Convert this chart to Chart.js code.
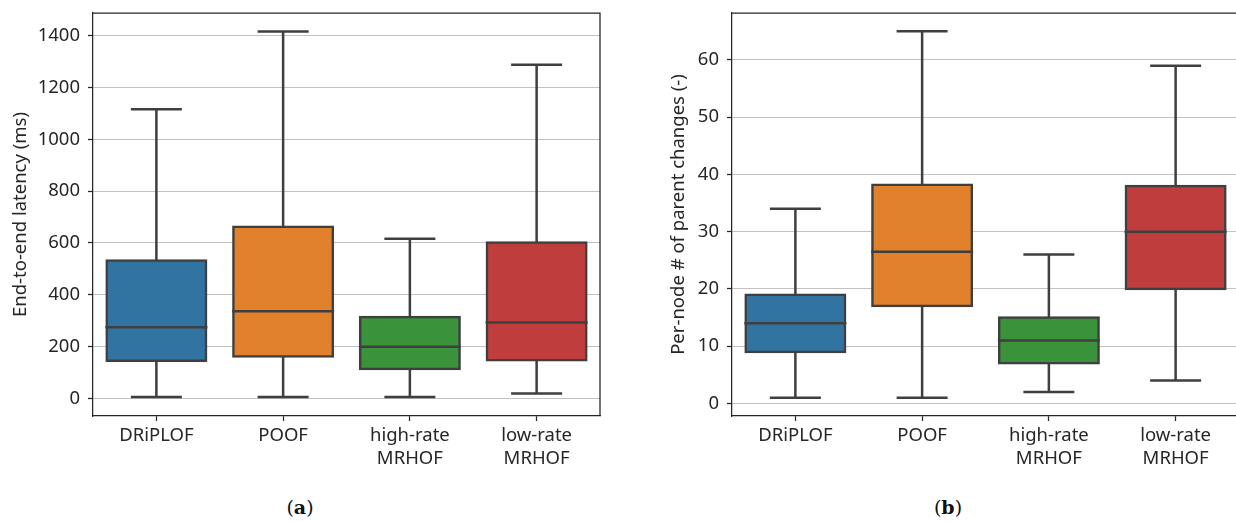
<!DOCTYPE html>
<html>
<head>
<meta charset="utf-8">
<script src="https://cdn.jsdelivr.net/npm/chart.js@4.4.1/dist/chart.umd.min.js"></script>
<style>
  html, body { margin:0; padding:0; background:#fff; }
  #wrap { position:relative; width:1236px; height:522px; overflow:hidden; }
  canvas { position:absolute; top:0; }
  #cA { left:0; }
  #cB { left:640px; }
  .cap { position:absolute; top:496px; font-family:"DejaVu Serif","Liberation Serif",serif; font-size:19px; color:#111; transform:translateX(-50%); }
</style>
</head>
<body>
<div id="wrap">
  <canvas id="cA" width="610" height="480"></canvas>
  <canvas id="cB" width="610" height="480"></canvas>
  <div class="cap" style="left:300px">(<b>a</b>)</div>
  <div class="cap" style="left:948px">(<b>b</b>)</div>
</div>
<script>
// ---- data ----
const categories = [['DRiPLOF'], ['POOF'], ['high-rate', 'MRHOF'], ['low-rate', 'MRHOF']];
const boxColors = ['#3274a1', '#e1812c', '#3a923a', '#c03d3e'];

// (a) End-to-end latency (ms)
const latencyMin    = [5, 5, 5, 19];
const latencyQ1     = [145, 162, 113, 147];
const latencyMedian = [275, 336, 199, 293];
const latencyQ3     = [532, 663, 314, 602];
const latencyMax    = [1116, 1417, 616, 1288];
const latencyTicks  = [0, 200, 400, 600, 800, 1000, 1200, 1400];

// (b) Per-node # of parent changes
const parentMin    = [1, 1, 2, 4];
const parentQ1     = [9, 17, 7, 20];
const parentMedian = [14, 26.5, 11, 30];
const parentQ3     = [19, 38.2, 15, 38];
const parentMax    = [34, 65, 26, 59];
const parentTicks  = [0, 10, 20, 30, 40, 50, 60];

// ---- style ----
const LINE = '#3f3f3f';
const AXIS = '#262626';
const GRID = '#c2c2c2';
const FONT = 'Noto Sans';
const BW = 2.5;

const boxPlugin = {
  id: 'boxParts',
  afterDatasetsDraw(chart, args, opts) {
    const ctx = chart.ctx, x = chart.scales.x, y = chart.scales.y;
    const meta = chart.getDatasetMeta(0);
    ctx.save();
    ctx.strokeStyle = LINE;
    ctx.lineWidth = BW;
    ctx.lineCap = 'butt';
    opts.min.forEach((_, i) => {
      const bar = meta.data[i];
      const cx = x.getPixelForValue(i);
      const half = bar.width / 2 + BW / 2;
      const capHalf = (bar.width + BW) / 4;
      const pMin = y.getPixelForValue(opts.min[i]);
      const pQ1 = y.getPixelForValue(opts.q1[i]);
      const pMed = y.getPixelForValue(opts.median[i]);
      const pQ3 = y.getPixelForValue(opts.q3[i]);
      const pMax = y.getPixelForValue(opts.max[i]);
      ctx.beginPath();
      ctx.moveTo(cx, pQ3); ctx.lineTo(cx, pMax);
      ctx.moveTo(cx - capHalf, pMax); ctx.lineTo(cx + capHalf, pMax);
      ctx.moveTo(cx, pQ1); ctx.lineTo(cx, pMin);
      ctx.moveTo(cx - capHalf, pMin); ctx.lineTo(cx + capHalf, pMin);
      ctx.moveTo(cx - half, pMed); ctx.lineTo(cx + half, pMed);
      ctx.stroke();
    });
    ctx.restore();
  }
};

const framePlugin = {
  id: 'frame',
  afterDraw(chart) {
    const a = chart.chartArea, ctx = chart.ctx;
    ctx.save();
    ctx.strokeStyle = AXIS;
    ctx.lineWidth = 1.25;
    ctx.beginPath();
    ctx.moveTo(a.left, a.top); ctx.lineTo(a.right, a.top); ctx.lineTo(a.right, a.bottom);
    ctx.stroke();
    ctx.restore();
  }
};

function makeBox(id, stats, ticks, yMin, yMax, title, titlePad, yWidth, padRight) {
  return new Chart(document.getElementById(id), {
    type: 'bar',
    data: {
      labels: categories,
      datasets: [{
        data: stats.q1.map((v, i) => [v, stats.q3[i]]),
        backgroundColor: boxColors,
        borderColor: LINE,
        borderWidth: BW,
        inflateAmount: BW / 2,
        borderSkipped: false,
        barPercentage: 0.785,
        categoryPercentage: 1.0
      }]
    },
    options: {
      responsive: false,
      animation: false,
      devicePixelRatio: 1,
      layout: { padding: { left: 0, top: 13, right: padRight, bottom: 0 } },
      plugins: {
        legend: { display: false },
        tooltip: { enabled: false },
        boxParts: stats
      },
      scales: {
        x: {
          offset: true,
          grid: { display: true, drawOnChartArea: false, drawTicks: true, tickLength: 5, tickColor: AXIS, tickWidth: 1.25, offset: false },
          border: { display: true, color: AXIS, width: 1.25 },
          ticks: { color: AXIS, font: { family: FONT, size: 18.5 }, padding: 4, maxRotation: 0, autoSkip: false },
          afterFit(s) { s.height = 64; s.paddingLeft = 0; s.paddingRight = 0; }
        },
        y: {
          min: yMin, max: yMax,
          afterBuildTicks(s) { s.ticks = ticks.map(v => ({ value: v })); },
          grid: { color: GRID, lineWidth: 1, tickColor: AXIS, tickLength: 5, tickWidth: 1.25 },
          border: { display: true, color: AXIS, width: 1.25 },
          ticks: { color: AXIS, font: { family: FONT, size: 18.5 }, padding: 8, callback: v => String(v) },
          title: { display: true, text: title, color: AXIS, font: { family: FONT, size: 18.5 }, padding: { top: titlePad, bottom: 0 } },
          afterFit(s) { s.width = yWidth; s.paddingTop = 0; s.paddingBottom = 0; }
        }
      }
    },
    plugins: [boxPlugin, framePlugin]
  });
}

makeBox('cA',
  { min: latencyMin, q1: latencyQ1, median: latencyMedian, q3: latencyQ3, max: latencyMax },
  latencyTicks, -68, 1488, 'End-to-end latency (ms)', 10, 93, 10);

makeBox('cB',
  { min: parentMin, q1: parentQ1, median: parentMedian, q3: parentQ3, max: parentMax },
  parentTicks, -2.2, 68.2, 'Per-node # of parent changes (-)', 28, 92, 11);
</script>
</body>
</html>
